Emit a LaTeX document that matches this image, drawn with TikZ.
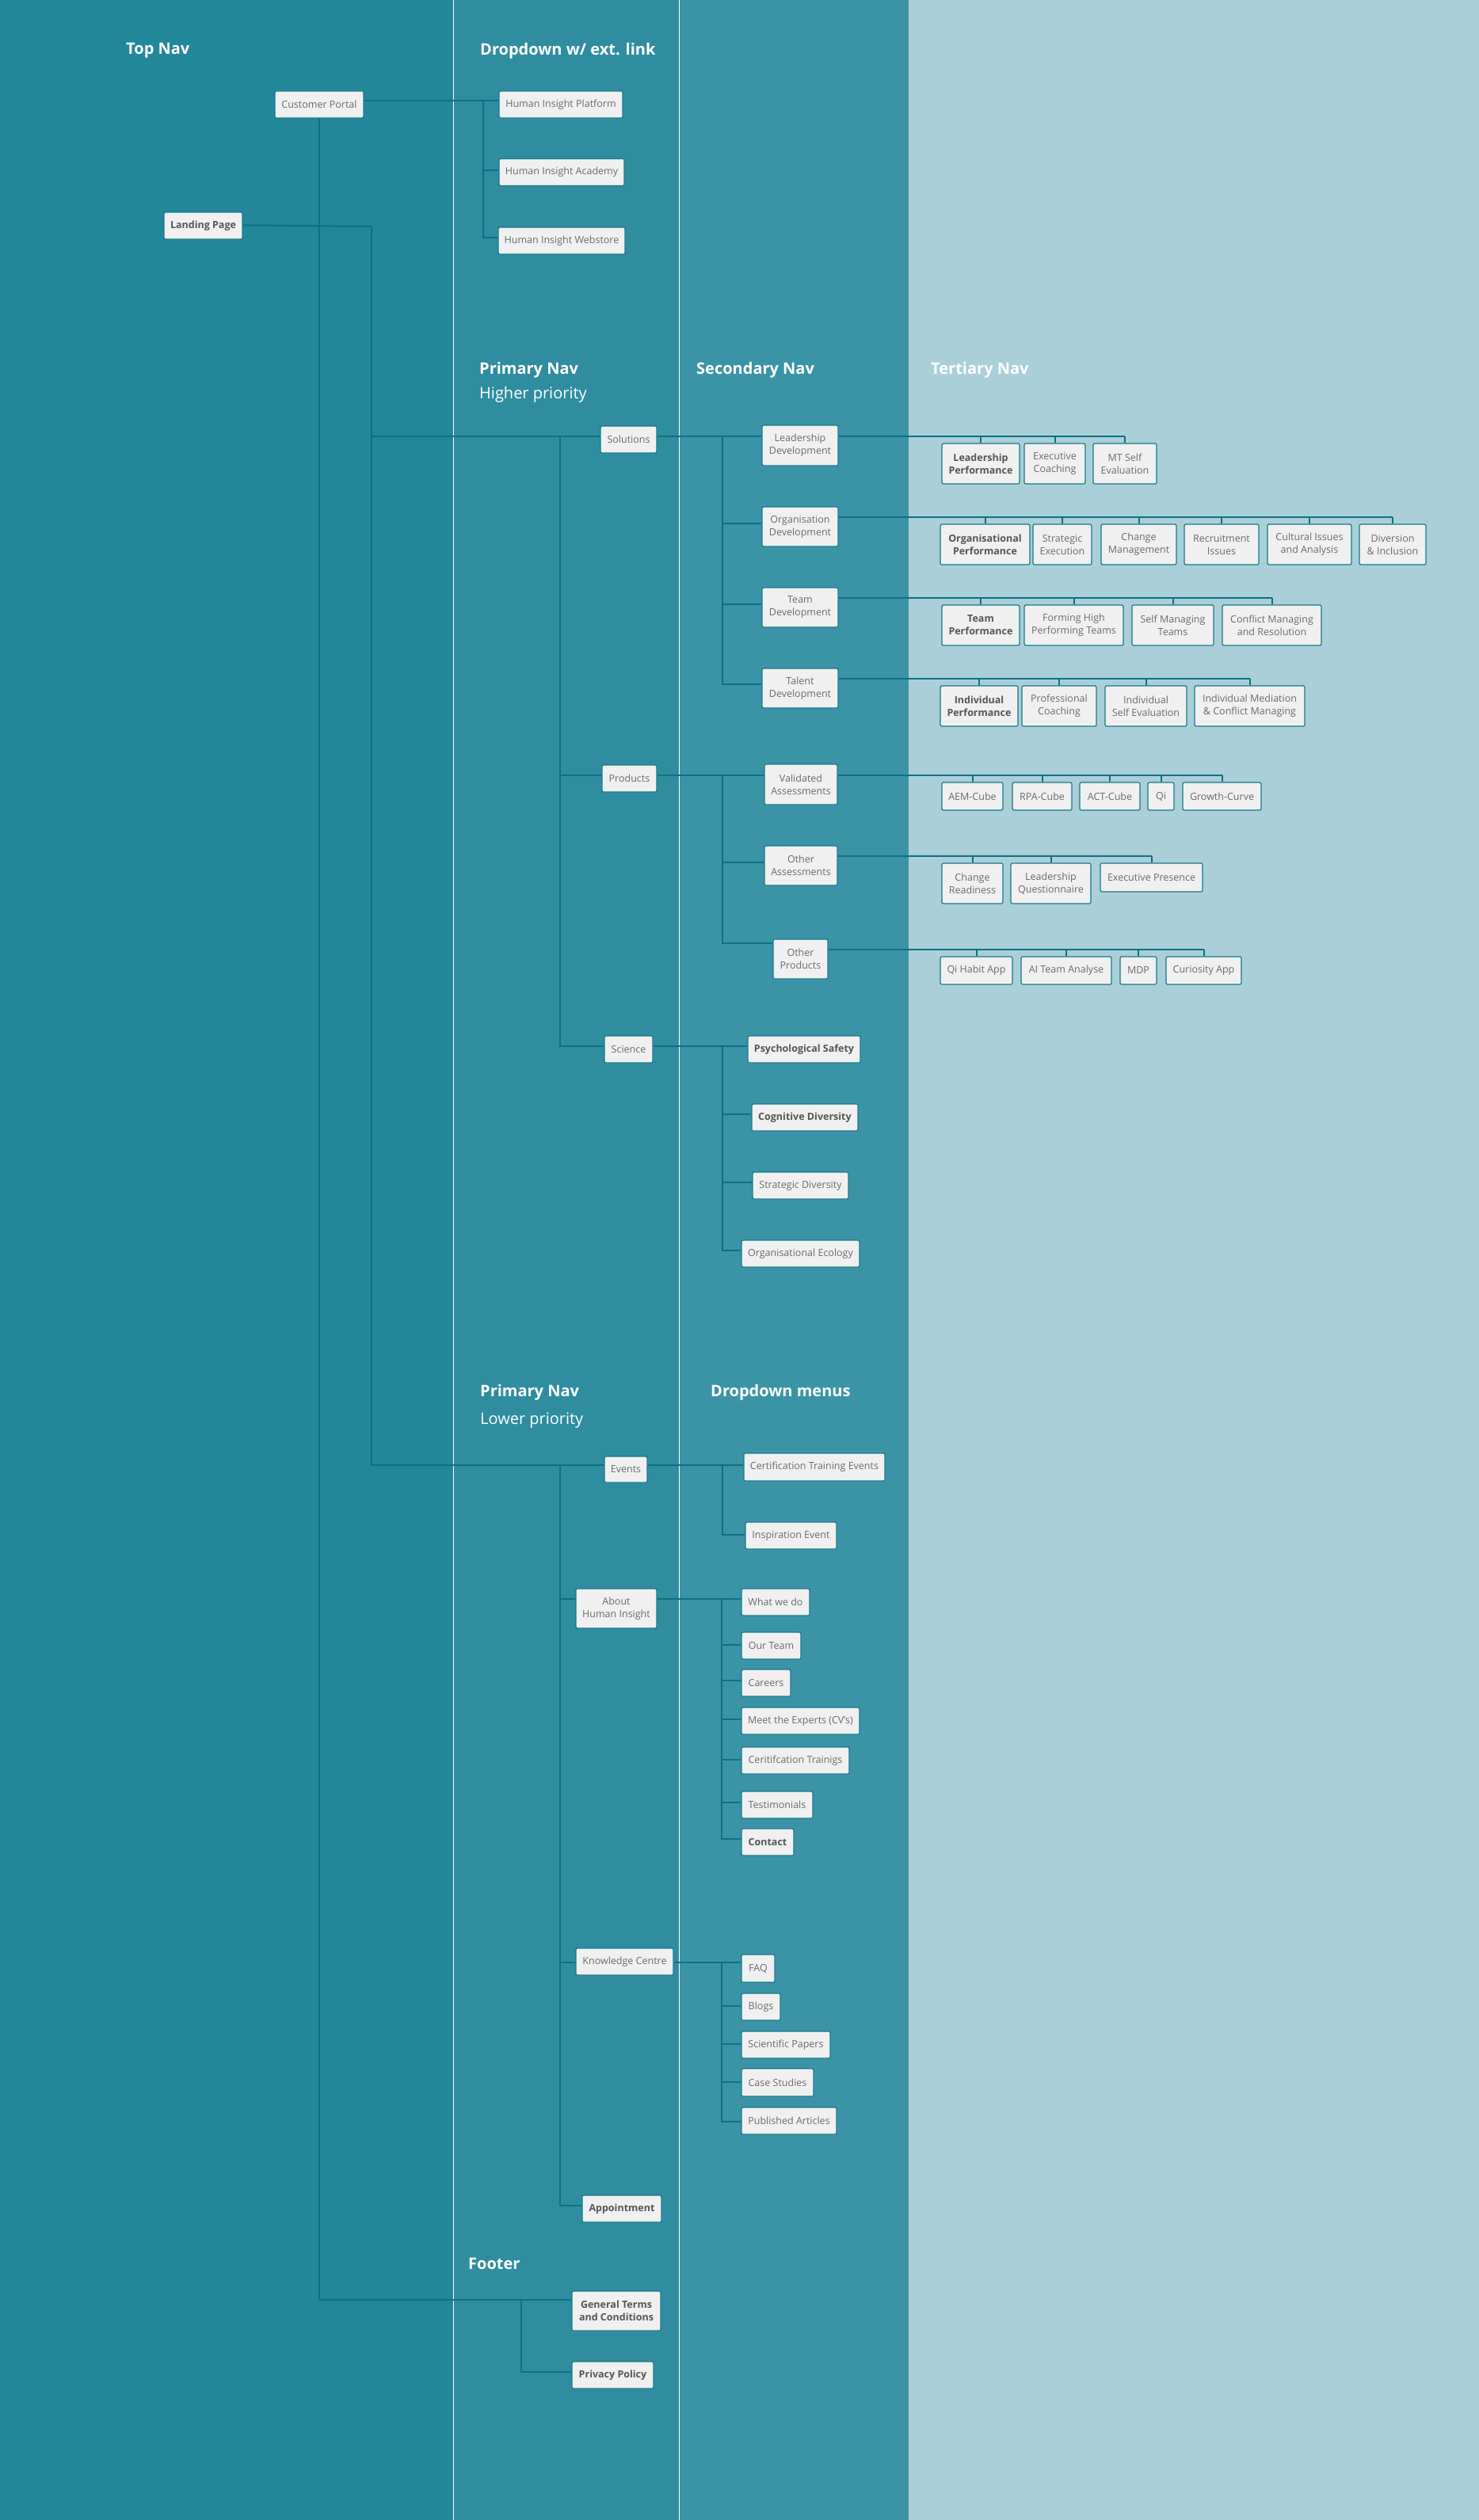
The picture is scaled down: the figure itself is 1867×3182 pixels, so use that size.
\documentclass[tikz,border=0pt]{standalone}
\usepackage{fontspec}
\setmainfont{Open Sans}
\usetikzlibrary{calc}
\definecolor{colA}{HTML}{228799}
\definecolor{colB}{HTML}{2F8D9F}
\definecolor{colC}{HTML}{3B94A6}
\definecolor{colD}{HTML}{AACFD8}
\definecolor{connc}{HTML}{0C7184}
\definecolor{boxfill}{HTML}{F0F0F0}
\definecolor{boxline}{HTML}{16798B}
\definecolor{boxtext}{HTML}{6A6A6A}
\definecolor{boxbold}{HTML}{555555}
\newcommand{\mkbox}[6]{\node[#1, minimum width=#4, minimum height=#5] (#2) at (#3) {#6};}
\begin{document}
\begin{tikzpicture}[x=1pt,y=-1pt,
  box/.style={draw=boxline, fill=boxfill, rounded corners=2pt, line width=1.2pt, text=boxtext,
    font=\fontsize{12.5}{16}\selectfont, align=center, inner sep=0pt},
  bbox/.style={box, text=boxbold, font=\fontsize{12.5}{16}\selectfont\bfseries},
  ttl/.style={text=white, font=\fontsize{20}{24}\selectfont\bfseries, anchor=west, inner sep=0pt},
  subttl/.style={text=white, font=\fontsize{20}{24}\selectfont, anchor=west, inner sep=0pt},
  conn/.style={draw=connc, line width=2pt},
  sep/.style={draw=white, line width=1pt}]
\useasboundingbox (0,0) rectangle (1867,3182);
% backgrounds
\fill[colA] (0,0) rectangle (572,3182);
\fill[colB] (572,0) rectangle (857,3182);
\fill[colC] (857,0) rectangle (1147,3182);
\fill[colD] (1147,0) rectangle (1867,3182);
\draw[sep] (572,0) -- (572,3182);
\draw[sep] (857,0) -- (857,3182);

% titles
\node[ttl] (tTop) at (159,64) {Top Nav};
\node[ttl] (tDrop) at (606,64) {Dropdown w/ ext. link};
\node[ttl] (tPrim) at (605,467) {Primary Nav};
\node[subttl] (tHigh) at (605,498) {Higher priority};
\node[ttl] (tSec) at (879,467) {Secondary Nav};
\node[ttl] (tTer) at (1175,467) {Tertiary Nav};
\node[ttl] (tPrim2) at (606,1758) {Primary Nav};
\node[subttl] (tLow) at (606,1794) {Lower priority};
\node[ttl] (tDrop2) at (897,1758) {Dropdown menus};
\node[ttl] (tFoot) at (591,2858) {Footer};

% top nav
\mkbox{box}{cp}{403,132}{112}{34}{Customer Portal}
\mkbox{box}{hip}{708,132}{156}{34}{Human Insight Platform}
\mkbox{box}{hia}{709,217.5}{158}{34}{Human Insight Academy}
\mkbox{box}{hiw}{709,304}{160}{34}{Human Insight Webstore}
\mkbox{bbox}{lp}{256.5,285}{99}{34}{Landing Page}

% primary higher
\mkbox{box}{sol}{793.5,555}{71}{34}{Solutions}
\mkbox{box}{prod}{794.5,983}{69}{34}{Products}
\mkbox{box}{sci}{793.5,1325}{61}{34}{Science}

% secondary
\mkbox{box}{ld}{1010,562.5}{96}{51}{Leadership\\Development}
\mkbox{box}{od}{1010,665}{96}{50}{Organisation\\Development}
\mkbox{box}{td}{1010,767}{96}{50}{Team\\Development}
\mkbox{box}{tald}{1010,869}{96}{50}{Talent\\Development}
\mkbox{box}{va}{1011,990.5}{92}{51}{Validated\\Assessments}
\mkbox{box}{oa}{1011,1093}{92}{50}{Other\\Assessments}
\mkbox{box}{op}{1010.5,1211}{69}{50}{Other\\Products}
\mkbox{bbox}{ps}{1015,1325}{142}{34}{Psychological Safety}
\mkbox{bbox}{cd}{1016,1411}{134}{34}{Cognitive Diversity}
\mkbox{box}{sd}{1010.5,1497}{121}{34}{Strategic Diversity}
\mkbox{box}{oe}{1010.5,1583}{149}{34}{Organisational Ecology}

% tertiary row 1
\mkbox{bbox}{lperf}{1238,585.5}{98}{51}{Leadership\\Performance}
\mkbox{box}{ec}{1331.5,585.5}{77}{51}{Executive\\Coaching}
\mkbox{box}{mt}{1420,585.5}{80}{51}{MT Self\\Evaluation}
% row 2
\mkbox{bbox}{operf}{1243.5,687.5}{113}{51}{Organisational\\Performance}
\mkbox{box}{se}{1341,687.5}{74}{51}{Strategic\\Execution}
\mkbox{box}{cm}{1437.5,687.5}{95}{51}{Change\\Management}
\mkbox{box}{ri}{1542,687.5}{94}{51}{Recruitment\\Issues}
\mkbox{box}{ci}{1653,687.5}{106}{51}{Cultural Issues\\and Analysis}
\mkbox{box}{di}{1758,687.5}{84}{51}{Diversion\\\& Inclusion}
% row 3
\mkbox{bbox}{tperf}{1238,789.5}{98}{51}{Team\\Performance}
\mkbox{box}{fh}{1355.5,789.5}{125}{51}{Forming High\\Performing Teams}
\mkbox{box}{sm}{1480.5,789.5}{103}{51}{Self Managing\\Teams}
\mkbox{box}{cmr}{1605.5,789.5}{125}{51}{Conflict Managing\\and Resolution}
% row 4
\mkbox{bbox}{iperf}{1236,891.5}{98}{51}{Individual\\Performance}
\mkbox{box}{pc}{1337,891.5}{94}{51}{Professional\\Coaching}
\mkbox{box}{ise}{1446.5,891.5}{103}{51}{Individual\\Self Evaluation}
\mkbox{box}{imc}{1577.5,891.5}{139}{51}{Individual Mediation\\\& Conflict Managing}
% products rows
\mkbox{box}{aem}{1227.5,1005.5}{77}{35}{AEM-Cube}
\mkbox{box}{rpa}{1315.5,1005.5}{75}{35}{RPA-Cube}
\mkbox{box}{act}{1401,1005.5}{76}{35}{ACT-Cube}
\mkbox{box}{qi}{1465.5,1005.5}{33}{35}{Qi}
\mkbox{box}{gc}{1542.5,1005.5}{99}{35}{Growth-Curve}
\mkbox{box}{cr}{1227.5,1115.5}{77}{51}{Change\\Readiness}
\mkbox{box}{lq}{1326.5,1115.5}{101}{51}{Leadership\\Questionnaire}
\mkbox{box}{ep}{1453.5,1108}{129}{36}{Executive Presence}
\mkbox{box}{qha}{1232.5,1225.5}{91}{35}{Qi Habit App}
\mkbox{box}{ai}{1346,1225.5}{114}{35}{AI Team Analyse}
\mkbox{box}{mdp}{1437,1225.5}{46}{35}{MDP}
\mkbox{box}{cur}{1519.5,1225.5}{95}{35}{Curiosity App}

% lower priority
\mkbox{box}{ev}{790,1855.5}{54}{33}{Events}
\mkbox{box}{cte}{1028,1852.5}{178}{35}{Certification Training Events}
\mkbox{box}{ie}{998.5,1939}{115}{34}{Inspiration Event}
\mkbox{box}{abt}{778,2031}{102}{50}{About\\Human Insight}
\mkbox{box}{wwd}{979,2023}{86}{34}{What we do}
\mkbox{box}{ot}{973.5,2078}{75}{34}{Our Team}
\mkbox{box}{car}{967,2125}{62}{34}{Careers}
\mkbox{box}{mte}{1010.5,2173}{149}{34}{Meet the Experts (CV's)}
\mkbox{box}{ct}{1004,2223}{136}{34}{Ceritifcation Trainigs}
\mkbox{box}{tes}{981,2279}{90}{34}{Testimonials}
\mkbox{bbox}{con}{969,2326}{66}{34}{Contact}
\mkbox{box}{kc}{788.5,2477}{123}{34}{Knowledge Centre}
\mkbox{box}{faq}{957,2485.5}{42}{35}{FAQ}
\mkbox{box}{blg}{960.5,2534}{49}{34}{Blogs}
\mkbox{box}{scp}{992,2582}{112}{34}{Scientific Papers}
\mkbox{box}{cs}{981.5,2629.5}{91}{35}{Case Studies}
\mkbox{box}{pa}{996,2678}{120}{34}{Published Articles}
\mkbox{bbox}{app}{785,2789}{100}{34}{Appointment}
\mkbox{bbox}{gt}{778,2918}{112}{50}{General Terms\\and Conditions}
\mkbox{bbox}{pp}{773.5,2999}{103}{34}{Privacy Policy}

% ---------- connectors ----------
% customer portal dropdown
\coordinate (cpo) at ([yshift=-13pt]cp.north east);
\coordinate (dj) at (610,128);
\draw[conn] (cpo) -- (cpo -| hip.west);
\draw[conn] (dj) |- ([yshift=-15pt]hia.north west);
\draw[conn] (dj) |- ([yshift=-14pt]hiw.north west);
% customer portal trunk to footer
\coordinate (gti) at ([yshift=-12pt]gt.north west);
\draw[conn] (cp.south) |- (gti);
\coordinate (fj) at (658,2905);
\draw[conn] (fj) |- ([yshift=-14pt]pp.north west);
% landing page trunk
\coordinate (lpo) at ([yshift=-17pt]lp.north east);
\coordinate (lj) at (469,286);
\draw[conn] (lpo) -- (lj);
\draw[conn] (lj) |- ([yshift=-14pt]sol.north west);
\draw[conn] (lj) |- ([yshift=-12pt]ev.north west);
% primary higher trunk
\coordinate (pj) at (707,552);
\draw[conn] (pj) |- ([yshift=-14pt]prod.north west);
\draw[conn] (pj) |- ([yshift=-14pt]sci.north west);
% solutions
\coordinate (solo) at ([yshift=-14pt]sol.north east);
\draw[conn] (solo) -- (solo -| ld.west);
\coordinate (sj) at (912,552);
\draw[conn] (sj) |- ([yshift=-22pt]od.north west);
\draw[conn] (sj) |- ([yshift=-22pt]td.north west);
\draw[conn] (sj) |- ([yshift=-21pt]tald.north west);
% products
\coordinate (prodo) at ([yshift=-14pt]prod.north east);
\draw[conn] (prodo) -- (prodo -| va.west);
\coordinate (prj) at (912,980);
\draw[conn] (prj) |- ([yshift=-22pt]oa.north west);
\draw[conn] (prj) |- ([yshift=-6pt]op.north west);
% science
\coordinate (scio) at ([yshift=-14pt]sci.north east);
\draw[conn] (scio) -- (scio -| ps.west);
\coordinate (scj) at (912,1322);
\draw[conn] (scj) |- ([yshift=-14pt]cd.north west);
\draw[conn] (scj) |- ([yshift=-14pt]sd.north west);
\draw[conn] (scj) |- ([yshift=-14pt]oe.north west);
% tertiary
\coordinate (ldo) at ([yshift=-15pt]ld.north east);
\draw[conn] (ldo) -- (ldo -| mt.north);
\foreach \c in {lperf,ec,mt} \draw[conn] (ldo -| \c.north) -- (\c.north);
\coordinate (odo) at ([yshift=-14pt]od.north east);
\draw[conn] (odo) -- (odo -| di.north);
\foreach \c in {operf,se,cm,ri,ci,di} \draw[conn] (odo -| \c.north) -- (\c.north);
\coordinate (tdo) at ([yshift=-14pt]td.north east);
\draw[conn] (tdo) -- (tdo -| cmr.north);
\foreach \c in {tperf,fh,sm,cmr} \draw[conn] (tdo -| \c.north) -- (\c.north);
\coordinate (taldo) at ([yshift=-14pt]tald.north east);
\draw[conn] (taldo) -- (taldo -| imc.north);
\foreach \c in {iperf,pc,ise,imc} \draw[conn] (taldo -| \c.north) -- (\c.north);
\coordinate (vao) at ([yshift=-15pt]va.north east);
\draw[conn] (vao) -- (vao -| gc.north);
\foreach \c in {aem,rpa,act,qi,gc} \draw[conn] (vao -| \c.north) -- (\c.north);
\coordinate (oao) at ([yshift=-14pt]oa.north east);
\draw[conn] (oao) -- (oao -| ep.north);
\foreach \c in {cr,lq,ep} \draw[conn] (oao -| \c.north) -- (\c.north);
\coordinate (opo) at ([yshift=-14pt]op.north east);
\draw[conn] (opo) -- (opo -| cur.north);
\foreach \c in {qha,ai,mdp,cur} \draw[conn] (opo -| \c.north) -- (\c.north);
% lower priority
\coordinate (evo) at ([yshift=-12pt]ev.north east);
\draw[conn] (evo) -- (evo -| cte.west);
\coordinate (evj) at (912,1851);
\draw[conn] (evj) |- ([yshift=-17pt]ie.north west);
\coordinate (lj2) at (707,1851);
\draw[conn] (lj2) |- ([yshift=-14pt]abt.north west);
\draw[conn] (lj2) |- ([yshift=-19pt]kc.north west);
\draw[conn] (lj2) |- ([yshift=-14pt]app.north west);
\coordinate (abto) at ([yshift=-14pt]abt.north east);
\draw[conn] (abto) -- (abto -| wwd.west);
\coordinate (aj) at (911,2020);
\draw[conn] (aj) |- ([yshift=-17pt]ot.north west);
\draw[conn] (aj) |- ([yshift=-15pt]car.north west);
\draw[conn] (aj) |- ([yshift=-16pt]mte.north west);
\draw[conn] (aj) |- ([yshift=-17pt]ct.north west);
\draw[conn] (aj) |- ([yshift=-15pt]tes.north west);
\draw[conn] (aj) |- ([yshift=-14pt]con.north west);
\coordinate (kco) at ([yshift=-19pt]kc.north east);
\draw[conn] (kco) -- (kco -| faq.west);
\coordinate (kj) at (911,2479);
\draw[conn] (kj) |- ([yshift=-17pt]blg.north west);
\draw[conn] (kj) |- ([yshift=-17pt]scp.north west);
\draw[conn] (kj) |- ([yshift=-18pt]cs.north west);
\draw[conn] (kj) |- ([yshift=-19pt]pa.north west);
\end{tikzpicture}
\end{document}
